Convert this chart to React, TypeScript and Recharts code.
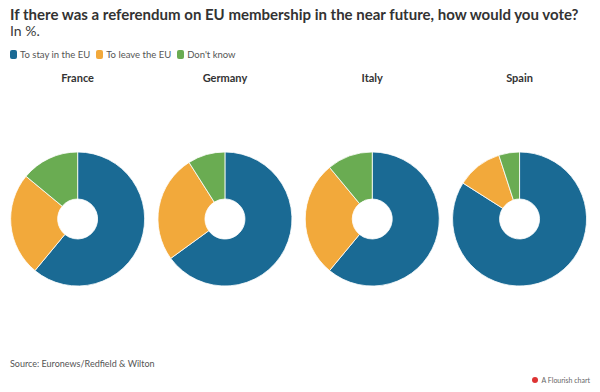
import { PieChart, Pie, Cell } from "recharts"

const ANSWERS = ["To stay in the EU", "To leave the EU", "Don't know"]
const COLORS = ["#1a6a94", "#f2a93b", "#6aac52"]
const COUNTRIES = ["France", "Germany", "Italy", "Spain"]
const FRANCE = [61, 25, 14]
const GERMANY = [65, 26, 9]
const ITALY = [61, 28, 11]
const SPAIN = [84, 11, 5]
const VALUES = [FRANCE, GERMANY, ITALY, SPAIN]

const FONT = "Lato, 'Noto Sans', sans-serif"
const CELL_W = 147.3

export default function App() {
  return (
    <div style={{ position: "absolute", left: 0, top: 0, width: 600, height: 392, background: "#fff", fontFamily: FONT, color: "#333" }}>
      <div style={{ position: "absolute", left: 10, top: 5, fontSize: 15, lineHeight: "18px", fontWeight: 700, color: "#333", whiteSpace: "nowrap" }}>
        If there was a referendum on EU membership in the near future, how would you vote?
      </div>
      <div style={{ position: "absolute", left: 10, top: 23, fontSize: 14, lineHeight: "16px", fontWeight: 400, color: "#3a3a3a" }}>In %.</div>

      <div style={{ position: "absolute", left: 10, top: 49, display: "flex", alignItems: "center", fontSize: 9.5, color: "#555" }}>
        {ANSWERS.map((a, i) => (
          <div key={a} style={{ display: "flex", alignItems: "center", marginRight: 6 }}>
            <span style={{ display: "inline-block", width: 7, height: 9, borderRadius: 2, background: COLORS[i], marginRight: 3 }} />
            {a}
          </div>
        ))}
      </div>

      {COUNTRIES.map((c, i) => (
        <div key={c} style={{ position: "absolute", left: 4 + i * CELL_W, width: CELL_W, top: 71, textAlign: "center", fontSize: 11, fontWeight: 700, color: "#333" }}>
          {c}
        </div>
      ))}

      <div style={{ position: "absolute", left: 0, top: 140 }}>
        <PieChart width={600} height={160} margin={{ top: 0, right: 0, bottom: 0, left: 0 }}>
          {COUNTRIES.map((c, i) => (
            <Pie
              key={c}
              data={ANSWERS.map((a, j) => ({ name: a, value: VALUES[i][j] }))}
              dataKey="value"
              nameKey="name"
              cx={4 + CELL_W * i + CELL_W / 2}
              cy={79}
              innerRadius={20}
              outerRadius={67}
              startAngle={90}
              endAngle={-270}
              stroke="#fff"
              strokeWidth={0.8}
              isAnimationActive={false}
            >
              {ANSWERS.map((a, j) => (
                <Cell key={a} fill={COLORS[j]} />
              ))}
            </Pie>
          ))}
        </PieChart>
      </div>

      <div style={{ position: "absolute", left: 10, top: 358, fontSize: 9, color: "#555" }}>Source: Euronews/Redfield &amp; Wilton</div>
      <div style={{ position: "absolute", right: 10, top: 376, display: "flex", alignItems: "center", fontSize: 7, color: "#666" }}>
        <span style={{ display: "inline-block", width: 6, height: 6, borderRadius: 3, background: "#d33", marginRight: 4 }} />
        A Flourish chart
      </div>
    </div>
  )
}
